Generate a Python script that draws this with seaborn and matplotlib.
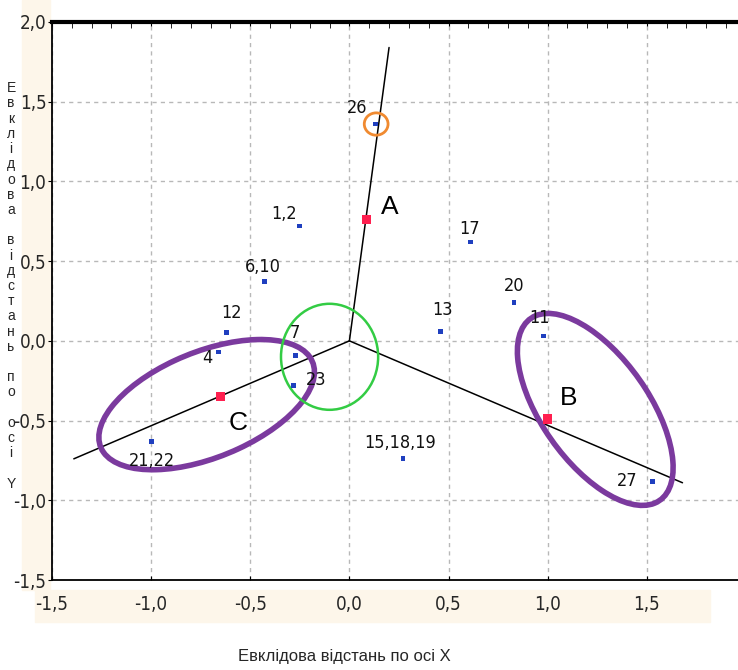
import matplotlib
matplotlib.use("Agg")
import matplotlib.pyplot as plt
import seaborn as sns
import pandas as pd
from matplotlib.patches import Ellipse, Rectangle
from matplotlib.ticker import MultipleLocator

# objects (labels, coordinates)
point_labels = ["26", "1,2", "6,10", "12", "4", "7", "23", "21,22",
                "13", "17", "20", "11", "15,18,19", "27"]
point_x = [0.13, -0.25, -0.43, -0.62, -0.66, -0.27, -0.28, -1.00,
           0.46, 0.61, 0.83, 0.98, 0.27, 1.53]
point_y = [1.36, 0.72, 0.37, 0.05, -0.07, -0.09, -0.28, -0.63,
           0.06, 0.62, 0.24, 0.03, -0.74, -0.88]

# cluster centres and the ends of the cluster axes
cluster_names = ["A", "B", "C"]
centre_x = [0.085, 1.00, -0.65]
centre_y = [0.76, -0.49, -0.35]
axis_end_x = [0.20, 1.68, -1.39]
axis_end_y = [1.84, -0.89, -0.74]

# hand-drawn outlines (centre x, centre y, width, height, angle)
outline_cx = [1.24, -0.72]
outline_cy = [-0.43, -0.40]
outline_w = [1.32, 1.20]
outline_h = [0.57, 0.64]
outline_angle = [-63, 30]

x_ticks = [-1.5, -1.0, -0.5, 0.0, 0.5, 1.0, 1.5]
y_ticks = [-1.5, -1.0, -0.5, 0.0, 0.5, 1.0, 1.5, 2.0]

# label offsets in pixels
label_off = {"26": (-18, 16), "1,2": (-16, 12), "6,10": (-1, 15), "12": (5, 20),
             "4": (-11, -6), "7": (-1, 22), "23": (22, 5), "21,22": (1, -20),
             "13": (2, 21), "17": (-1, 13), "20": (0, 17), "11": (-4, 18),
             "15,18,19": (-3, 16), "27": (-26, 0)}
name_off = {"A": (24, 13), "B": (21, 21), "C": (18, -26)}

df = pd.DataFrame({"x": point_x, "y": point_y, "label": point_labels})
cent = pd.DataFrame({"x": centre_x, "y": centre_y, "name": cluster_names})

sns.set_style("white")
plt.rcParams["font.family"] = ["DejaVu Sans"]

fig = plt.figure(figsize=(7.38, 6.70), dpi=100)
ax = fig.add_axes([52 / 738, 1 - 580 / 670, 1 - 52 / 738, (580 - 22) / 670])
ax.set_zorder(1)
ax.patch.set_alpha(0)

# cream bands behind the tick labels
fig.patches.append(Rectangle((35 / 738, 1 - 622 / 670), 675 / 738, 32 / 670,
                             transform=fig.transFigure, color="#fdf6ea", zorder=-1))
fig.patches.append(Rectangle((22 / 738, 1 - 590 / 670), 28 / 738, 590 / 670,
                             transform=fig.transFigure, color="#fdf6ea", zorder=-1))

for xe, ye in zip(axis_end_x, axis_end_y):
    ax.plot([0, xe], [0, ye], color="black", lw=1.1, zorder=2)

sns.scatterplot(data=df, x="x", y="y", marker="s", s=12, color="#1f3fbf",
                edgecolor="none", ax=ax, zorder=4)
sns.scatterplot(data=cent, x="x", y="y", marker="s", s=45, color="#ff1f4f",
                edgecolor="none", ax=ax, zorder=4)

for _, r in df.iterrows():
    dx, dy = label_off[r["label"]]
    ax.annotate(r["label"], (r["x"], r["y"]), xytext=(dx, dy),
                textcoords="offset pixels", ha="center", va="center",
                fontsize=13, fontstretch="condensed", color="#111111", zorder=5)
for _, r in cent.iterrows():
    dx, dy = name_off[r["name"]]
    ax.annotate(r["name"], (r["x"], r["y"]), xytext=(dx, dy),
                textcoords="offset pixels", ha="center", va="center",
                fontsize=19, family="Liberation Sans", color="black", zorder=5)

for cx, cy, w, h, a in zip(outline_cx, outline_cy, outline_w, outline_h, outline_angle):
    ax.add_patch(Ellipse((cx, cy), w, h, angle=a, fill=False,
                         ec="#7b3a9e", lw=4, zorder=3))
ax.add_patch(Ellipse((-0.10, -0.10), 0.49, 0.665, fill=False, ec="#33cc44",
                     lw=1.8, zorder=3))
ax.add_patch(Ellipse((0.135, 1.36), 0.12, 0.14, fill=False, ec="#f08a30",
                     lw=2, zorder=3))

ax.set_xlim(-1.5, 1.96)
ax.set_ylim(-1.5, 2.0)
ax.set_xticks(x_ticks)
ax.set_xticklabels([f"{v:.1f}".replace(".", ",") for v in x_ticks],
                   fontsize=13.5, fontstretch="condensed")
ax.set_yticks(y_ticks)
ax.set_yticklabels([f"{v:.1f}".replace(".", ",") for v in y_ticks],
                   fontsize=13.5, fontstretch="condensed")
ax.xaxis.set_minor_locator(MultipleLocator(0.1))
ax.grid(True, color="#b8b8b8", ls=(0, (3, 3)), lw=1)
ax.set_xlabel("")
ax.set_ylabel("")
ax.tick_params(axis="x", which="major", bottom=True, top=True, direction="in",
               length=3, color="black", pad=11)
ax.tick_params(axis="x", which="minor", bottom=False, top=True, direction="in",
               length=4, color="black")
ax.tick_params(axis="y", which="major", left=True, direction="out", length=3,
               color="black", pad=1)

for s in ["left", "bottom"]:
    ax.spines[s].set_color("black")
    ax.spines[s].set_linewidth(1.3)
ax.spines["top"].set_color("black")
ax.spines["top"].set_linewidth(3)
ax.spines["right"].set_visible(False)

fig.text(344 / 738, 1 - 657 / 670, "Евклідова відстань по осі X",
         ha="center", va="center", fontsize=12, family="Liberation Sans")
fig.text(11 / 738, 1 - 286 / 670, "\n".join("Евклідова відстань по осі Y"),
         ha="center", va="center", fontsize=10, linespacing=1.11,
         family="Liberation Sans")

fig.savefig("out.png", dpi=100)
